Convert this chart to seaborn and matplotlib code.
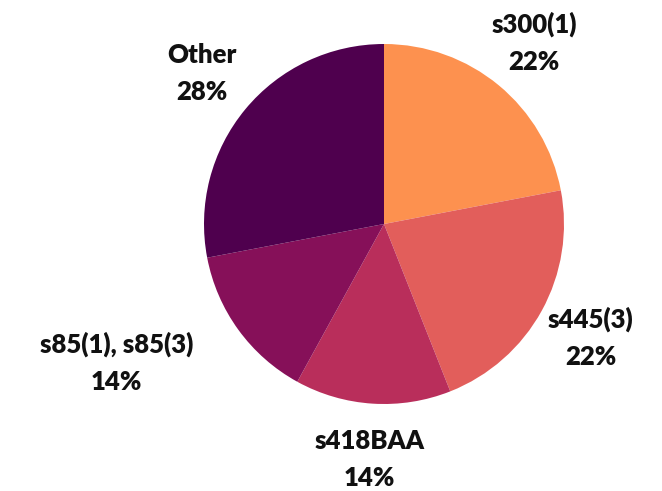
import matplotlib
matplotlib.use("Agg")
import matplotlib.pyplot as plt
import seaborn as sns

labels = ["s300(1)", "s445(3)", "s418BAA", "s85(1), s85(3)", "Other"]
shares = [22, 22, 14, 14, 28]
colors = ["#fd914f", "#e25e5b", "#b92e5b", "#861059", "#4f004e"]


def main() -> None:
    sns.set_theme(style="white")
    plt.rcParams["font.family"] = ["Lato", "DejaVu Sans"]

    fig = plt.figure(figsize=(6.62, 4.91), dpi=100)
    ax = fig.add_axes([0, 0, 1, 1])
    texts = ax.pie(
        shares,
        labels=[f"{n}\n{s}%" for n, s in zip(labels, shares)],
        colors=sns.color_palette(colors),
        startangle=90,
        counterclock=False,
        labeldistance=1.31,
        wedgeprops=dict(linewidth=0),
        textprops=dict(fontsize=18.5, fontweight="heavy", color="#111111", linespacing=1.65),
    )[1]
    for t in texts:
        x, _ = t.get_position()
        # wide labels on the left are pushed away from the pie
        if x < -0.5 and len(t.get_text()) > 12:
            t.set_ha("right")
        else:
            t.set_ha("center")
        t.set_va("center")
        t.set_multialignment("center")

    ax.set_xlim(-384 / 180, 278 / 180)
    ax.set_ylim(-267 / 180, 224 / 180)
    ax.set_aspect("auto")
    ax.axis("off")
    fig.savefig("out.png", dpi=100)


if __name__ == "__main__":
    main()
